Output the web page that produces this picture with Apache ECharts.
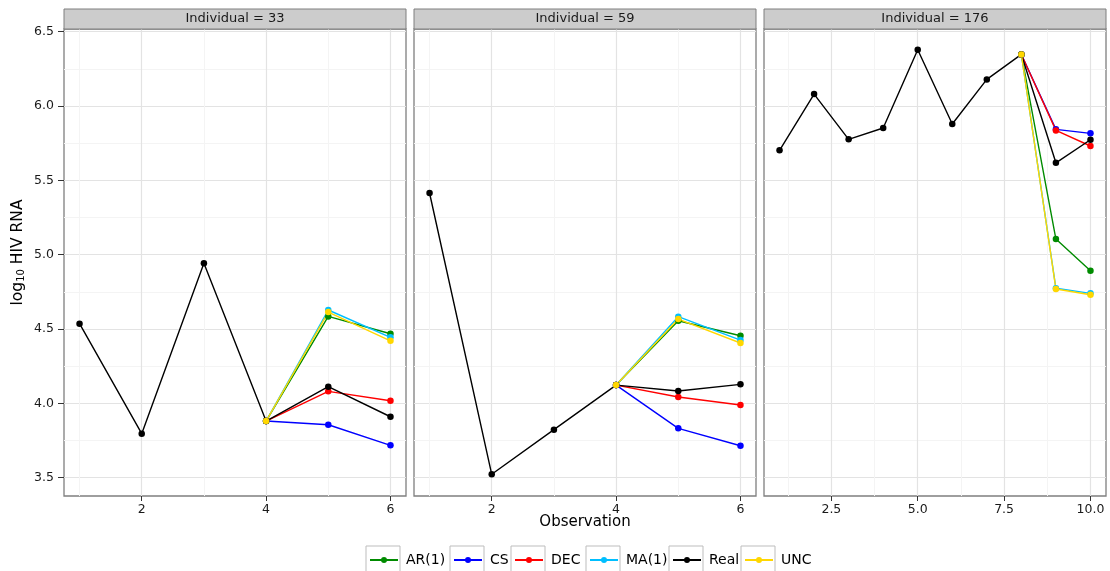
<!DOCTYPE html>
<html>
<head>
<meta charset="utf-8">
<script src="https://cdn.jsdelivr.net/npm/echarts@6/dist/echarts.min.js"></script>
<style>html,body{margin:0;padding:0;background:#fff}#c{width:1110px;height:571px}</style>
</head>
<body>
<div id="c"></div>
<script>
// ---------- data ----------
const seriesNames = ['AR(1)', 'CS', 'DEC', 'MA(1)', 'Real', 'UNC'];
const seriesColors = ['#008B00', '#0000FF', '#FF0000', '#00BFFF', '#000000', '#FFD700'];
const panelTitles = ['Individual = 33', 'Individual = 59', 'Individual = 176'];

const obs33 = [1, 2, 3, 4, 5, 6];
const real33 = [4.536, 3.796, 4.942, 3.881, 4.112, 3.910];
const ar33 = [4.585, 4.468];
const cs33 = [3.856, 3.718];
const dec33 = [4.081, 4.018];
const ma33 = [4.628, 4.444];
const unc33 = [4.614, 4.421];
const fcObs33 = [5, 6];

const obs59 = [1, 2, 3, 4, 5, 6];
const real59 = [5.415, 3.523, 3.823, 4.123, 4.083, 4.128];
const ar59 = [4.556, 4.455];
const cs59 = [3.832, 3.715];
const dec59 = [4.043, 3.989];
const ma59 = [4.583, 4.426];
const unc59 = [4.567, 4.406];
const fcObs59 = [5, 6];

const obs176 = [1, 2, 3, 4, 5, 6, 7, 8, 9, 10];
const real176 = [5.702, 6.080, 5.776, 5.852, 6.378, 5.879, 6.179, 6.347, 5.618, 5.773];
const ar176 = [5.105, 4.892];
const cs176 = [5.843, 5.816];
const dec176 = [5.836, 5.731];
const ma176 = [4.774, 4.740];
const unc176 = [4.769, 4.731];
const fcObs176 = [9, 10];

const xTicks12 = [2, 4, 6];
const xMinor12 = [1, 3, 5];
const xTicks3 = [2.5, 5.0, 7.5, 10.0];
const xMinor3 = [1.25, 3.75, 6.25, 8.75];
const yTicks = [3.5, 4.0, 4.5, 5.0, 5.5, 6.0, 6.5];
const yMinor = [3.75, 4.25, 4.75, 5.25, 5.75, 6.25];

// ---------- build ----------
const FONT = 'DejaVu Sans';
const panels = [
  { obs: obs33, real: real33, fc: [ar33, cs33, dec33, ma33, unc33], fcObs: fcObs33, xmin: 0.75, xmax: 6.25, ticks: xTicks12, minor: xMinor12, dec: 0 },
  { obs: obs59, real: real59, fc: [ar59, cs59, dec59, ma59, unc59], fcObs: fcObs59, xmin: 0.75, xmax: 6.25, ticks: xTicks12, minor: xMinor12, dec: 0 },
  { obs: obs176, real: real176, fc: [ar176, cs176, dec176, ma176, unc176], fcObs: fcObs176, xmin: 0.55, xmax: 10.45, ticks: xTicks3, minor: xMinor3, dec: 1 }
];
const gridLefts = [64, 414, 764];
const GW = 342, GTOP = 29, GH = 467;
const YMIN = 3.377, YMAX = 6.518;

const grids = [], xAxes = [], yAxes = [], series = [], graphics = [];
panels.forEach((p, g) => {
  grids.push({ left: gridLefts[g], top: GTOP, width: GW, height: GH, show: true, borderColor: '#7F7F7F', borderWidth: 1.3, backgroundColor: '#fff', containLabel: false });
  xAxes[g] = {
    gridIndex: g, type: 'value', position: 'bottom', min: p.xmin, max: p.xmax,
    axisLine: { show: false },
    axisTick: { show: true, length: 5, customValues: p.ticks, lineStyle: { color: '#333', width: 1 } },
    axisLabel: { customValues: p.ticks, color: '#1a1a1a', fontFamily: FONT, fontSize: 12.5, margin: 7, formatter: v => Number(v).toFixed(p.dec) },
    splitLine: { show: true, lineStyle: { color: '#E3E3E3', width: 1.2 } },
    name: g === 1 ? 'Observation' : '', nameLocation: 'middle', nameGap: 19, nameMoveOverlap: false,
    nameTextStyle: { color: '#000', fontFamily: FONT, fontSize: 15 }
  };
  xAxes[g + 3] = {
    gridIndex: g, type: 'value', position: 'bottom', min: p.xmin, max: p.xmax,
    axisLine: { show: false }, axisTick: { show: false, customValues: p.minor },
    axisLabel: { show: false, customValues: p.minor },
    splitLine: { show: true, lineStyle: { color: '#F4F4F4', width: 1 } }
  };
  yAxes[g] = {
    gridIndex: g, type: 'value', min: YMIN, max: YMAX,
    axisLine: { show: false },
    axisTick: { show: g === 0, length: 6, customValues: yTicks, lineStyle: { color: '#333', width: 1 } },
    axisLabel: { show: g === 0, customValues: yTicks, color: '#1a1a1a', fontFamily: FONT, fontSize: 12.5, margin: 10, formatter: v => Number(v).toFixed(1) },
    splitLine: { show: true, lineStyle: { color: '#E3E3E3', width: 1.2 } },
    name: g === 0 ? '{a|log}{s|10}{a| HIV RNA}' : '', nameLocation: 'middle', nameRotate: 90, nameGap: 38,
    nameTextStyle: { color: '#000', fontFamily: FONT, fontSize: 15, padding: [0, 0, 0, 20],
      rich: { a: { fontFamily: FONT, fontSize: 15.5, color: '#000' }, s: { fontFamily: FONT, fontSize: 10, color: '#000', padding: [6, 0, 0, 0] } } }
  };
  yAxes[g + 3] = {
    gridIndex: g, type: 'value', min: YMIN, max: YMAX,
    axisLine: { show: false }, axisTick: { show: false, customValues: yMinor },
    axisLabel: { show: false, customValues: yMinor },
    splitLine: { show: true, lineStyle: { color: '#F4F4F4', width: 1 } }
  };

  // series: forecasts start from last real observation before forecast horizon
  const originIdx = p.obs.indexOf(p.fcObs[0]) - 1;
  const origin = [p.obs[originIdx], p.real[originIdx]];
  const fcIdx = [0, 1, 2, 3, null, 4];
  seriesNames.forEach((name, k) => {
    let data;
    if (name === 'Real') data = p.obs.map((o, i) => [o, p.real[i]]);
    else { const arr = p.fc[fcIdx[k]]; data = [origin].concat(p.fcObs.map((o, i) => [o, arr[i]])); }
    series.push({
      name, type: 'line', xAxisIndex: g, yAxisIndex: g, data,
      symbol: 'circle', symbolSize: 6.5, showSymbol: true,
      lineStyle: { color: seriesColors[k], width: 1.4 },
      itemStyle: { color: seriesColors[k] },
      emphasis: { disabled: true }, animation: false
    });
  });

  // facet strip
  graphics.push({ type: 'rect', shape: { x: gridLefts[g], y: 9, width: GW, height: 20 }, style: { fill: '#CCCCCC', stroke: '#7F7F7F', lineWidth: 1 }, z: 1 });
  graphics.push({ type: 'text', x: gridLefts[g] + GW / 2, y: 19, style: { text: panelTitles[g], fill: '#1a1a1a', font: '13px "' + FONT + '"', textAlign: 'center', textVerticalAlign: 'middle' }, z: 2 });
});

// legend: one legend per key, with ggplot-style key boxes behind
const boxLefts = [366, 450, 511, 586, 669, 741];
const legends = seriesNames.map((name, k) => ({
  data: [name], left: boxLefts[k] + 3, top: 553, padding: 0,
  itemWidth: 28, itemHeight: 7.5, itemGap: 0,
  textStyle: { fontFamily: FONT, fontSize: 14, color: '#000', padding: [0, 0, 0, 3] }
}));
boxLefts.forEach(x => graphics.push({ type: 'rect', shape: { x: x, y: 546, width: 34, height: 30 }, style: { fill: '#fff', stroke: '#BDBDBD', lineWidth: 1 }, z: 0 }));

const chart = echarts.init(document.getElementById('c'), null, { renderer: 'canvas' });
chart.setOption({
  backgroundColor: '#fff', animation: false,
  grid: grids, xAxis: xAxes, yAxis: yAxes, series, legend: legends, graphic: graphics
});
</script>
</body>
</html>
